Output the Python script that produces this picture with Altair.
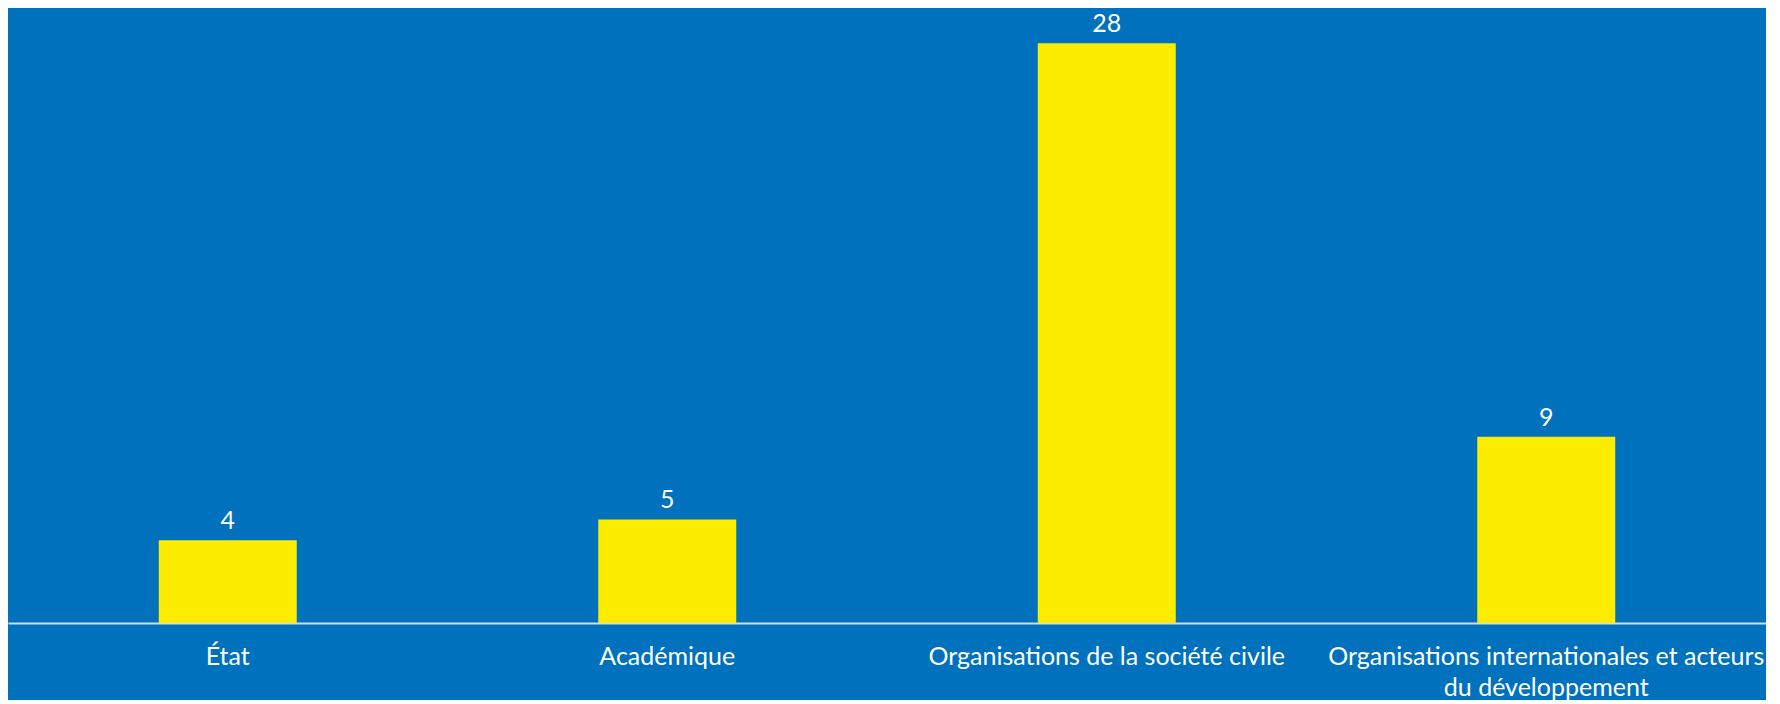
import altair as alt
import pandas as pd

categories = [
    "État",
    "Académique",
    "Organisations de la société civile",
    "Organisations internationales et acteurs du développement",
]
values = [4, 5, 28, 9]

df = pd.DataFrame({"cat": categories, "val": values})

FONT = "Lato"
BG = "#0071BC"
BAR = "#FCEC00"

label_expr = (
    "datum.label == 'Organisations internationales et acteurs du développement' "
    "? ['Organisations internationales et acteurs', 'du développement'] : datum.label"
)

x = alt.X(
    "cat:N",
    sort=categories,
    title=None,
    scale=alt.Scale(paddingInner=0, paddingOuter=0),
    axis=alt.Axis(
        labelAngle=0,
        labelExpr=label_expr,
        labelFont=FONT,
        labelFontSize=25,
        labelColor="white",
        labelPadding=21,
        labelLineHeight=31,
        labelBaseline="top",
        labelLimit=0,
        ticks=False,
        domainColor="#D9D9D9",
        domainWidth=2,
        grid=False,
    ),
)
y = alt.Y(
    "val:Q",
    title=None,
    scale=alt.Scale(domain=[0, 29.7], nice=False),
    axis=None,
)

bars = alt.Chart(df).mark_bar(color=BAR, size=138).encode(x=x, y=y)
text = alt.Chart(df).mark_text(
    font=FONT, fontSize=25, color="white", baseline="alphabetic", dy=-11
).encode(x=x, y=y, text="val:Q")

chart = (
    alt.layer(bars, text)
    .properties(width=1758, height=615, background=BG, padding=0)
    .configure_view(stroke=None)
)

chart.save("out.html", embed_options={"renderer": "svg", "actions": False})
